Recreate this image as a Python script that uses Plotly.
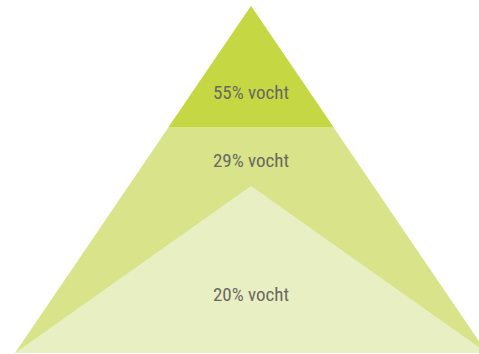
import plotly.graph_objects as go

# Data
labels = ["55% vocht", "29% vocht", "20% vocht"]
colors = ["#c5d844", "#d8e38a", "#e8f0c3"]
# layer geometry (fraction of pyramid height)
top_band_base = 0.651      # lower edge of top layer
inner_apex = 0.481         # apex of bottom layer
label_y = [0.745, 0.550, 0.164]

fig = go.Figure()

# middle layer: whole pyramid
fig.add_trace(go.Scatter(x=[-1, 0, 1, -1], y=[0, 1, 0, 0], fill="toself",
                         fillcolor=colors[1], line=dict(width=0), mode="lines",
                         hoverinfo="skip"))
# top layer
hw = 1 - top_band_base
fig.add_trace(go.Scatter(x=[-hw, 0, hw, -hw], y=[top_band_base, 1, top_band_base, top_band_base],
                         fill="toself", fillcolor=colors[0], line=dict(width=0),
                         mode="lines", hoverinfo="skip"))
# bottom layer
fig.add_trace(go.Scatter(x=[-1, 0, 1, -1], y=[0, inner_apex, 0, 0], fill="toself",
                         fillcolor=colors[2], line=dict(width=0), mode="lines",
                         hoverinfo="skip"))
# labels
fig.add_trace(go.Scatter(x=[0, 0, 0], y=label_y, text=labels, mode="text",
                         textfont=dict(family="'Roboto Condensed', 'DejaVu Sans Condensed', 'Liberation Sans Narrow', Roboto, sans-serif",
                                       size=19, color="#696961"),
                         hoverinfo="skip"))

fig.update_layout(
    width=479, height=354, margin=dict(l=0, r=0, t=0, b=0),
    paper_bgcolor="white", plot_bgcolor="white", showlegend=False,
    xaxis=dict(range=[-251/236, (479-251)/236], visible=False, fixedrange=True),
    yaxis=dict(range=[-1/347, 1 + 6/347], visible=False, fixedrange=True),
)
fig.write_html("out.html")
